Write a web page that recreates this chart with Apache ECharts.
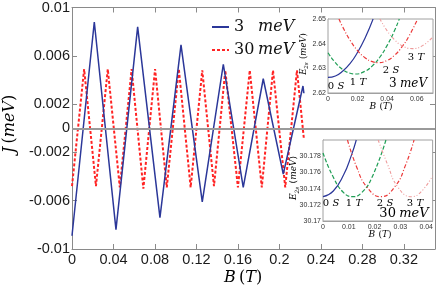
<!DOCTYPE html>
<html><head><meta charset="utf-8">
<script src="https://cdn.jsdelivr.net/npm/echarts@6/dist/echarts.min.js"></script>
<style>html,body{margin:0;padding:0;background:#fff}#c{width:436px;height:289px}</style>
</head><body><div id="c"></div>
<script>
// ---- main plot data: exchange J (meV) vs B (T)
const B_3meV = [0, 0.0215, 0.0424, 0.0633, 0.0848, 0.1051, 0.1256, 0.1459, 0.1651, 0.1844, 0.2037, 0.2227, 0.2236];
const J_3meV = [-0.0089, 0.0088, -0.0084, 0.0084, -0.0074, 0.0069, -0.0061, 0.0053, -0.0049, 0.0041, -0.0038, 0.0035, 0.0029];
const B_30meV = [0, 0.0117, 0.0231, 0.0345, 0.0461, 0.0575, 0.0688, 0.0801, 0.0914, 0.1030, 0.1144, 0.1256, 0.1369, 0.1478, 0.1600, 0.1714, 0.1830, 0.1938, 0.2056, 0.2169, 0.2236];
const J_30meV = [-0.0048, 0.0049, -0.0048, 0.0049, -0.0049, 0.0049, -0.0050, 0.0049, -0.0049, 0.0049, -0.0049, 0.0048, -0.0048, 0.0048, -0.0049, 0.0048, -0.0049, 0.0048, -0.0049, 0.0048, -0.0009];
const mainXTicks = [0, 0.04, 0.08, 0.12, 0.16, 0.2, 0.24, 0.28, 0.32];
const mainYTicks = [-0.01, -0.006, -0.002, 0, 0.002, 0.006, 0.01];

// ---- inset 1 (3 meV): E_2s (meV) vs B (T)
const in1_0S_B = [0, 0.005, 0.01, 0.015, 0.02, 0.025, 0.0305];
const in1_0S_E = [2.6263, 2.6269, 2.6289, 2.6320, 2.6365, 2.6422, 2.6500];
const in1_1T_B = [0, 0.005, 0.01, 0.015, 0.0185, 0.025, 0.03, 0.035, 0.04, 0.045, 0.0482];
const in1_1T_E = [2.6363, 2.6323, 2.6295, 2.6280, 2.6277, 2.6288, 2.6310, 2.6345, 2.6393, 2.6453, 2.6500];
const in1_2S_B = [0.0074, 0.01, 0.015, 0.02, 0.025, 0.03, 0.034, 0.04, 0.045, 0.05, 0.055, 0.0606];
const in1_2S_E = [2.6500, 2.6467, 2.6413, 2.6372, 2.6343, 2.6327, 2.6323, 2.6332, 2.6353, 2.6387, 2.6433, 2.6500];
const in1_3T_B = [0.0351, 0.04, 0.045, 0.05, 0.057, 0.064, 0.071];
const in1_3T_E = [2.6500, 2.6452, 2.6416, 2.6392, 2.6380, 2.6392, 2.6429];
const in1_XTicks = [0, 0.02, 0.04, 0.06];
const in1_YTicks = [2.62, 2.63, 2.64, 2.65];

// ---- inset 2 (30 meV)
const in2_0S_B = [0, 0.004, 0.008, 0.011, 0.0129];
const in2_0S_E = [30.1730, 30.1737, 30.1757, 30.1781, 30.1800];
const in2_1T_B = [0, 0.004, 0.008, 0.0115, 0.015, 0.019, 0.0244];
const in2_1T_E = [30.1784, 30.1754, 30.1735, 30.1730, 30.1735, 30.1754, 30.1800];
const in2_2S_B = [0.0095, 0.013, 0.017, 0.0224, 0.028, 0.032, 0.0353];
const in2_2S_E = [30.1800, 30.1767, 30.1742, 30.1730, 30.1743, 30.1769, 30.1800];
const in2_3T_B = [0.0214, 0.025, 0.029, 0.0343, 0.038, 0.0425];
const in2_3T_E = [30.1800, 30.1770, 30.1742, 30.1730, 30.1736, 30.1756];
const in2_XTicks = [0, 0.01, 0.02, 0.03, 0.04];
const in2_YTicks = [30.17, 30.172, 30.174, 30.176, 30.178];

const pairs = (xs, ys) => xs.map((x, i) => [x, ys[i]]);
const fmt = d => v => String(+(+v).toFixed(d));

const SANS = 'Liberation Sans';
const SERIF = 'DejaVu Serif';
const BLUE = '#2b3799', RED = '#ff2424', GREEN = '#1f9e55', RED2 = '#ec3a3a', PINK = '#ee9a9a';
const AX = '#8a8a8a';

function mainX(pos, show) {
  return { gridIndex: 0, type: 'value', position: pos, min: 0, max: 0.35,
    axisLine: { show: true, onZero: false, lineStyle: { color: AX, width: 1 } },
    axisTick: { show: true, inside: true, length: 5, customValues: mainXTicks, lineStyle: { color: AX } },
    axisLabel: { show: show, customValues: mainXTicks, formatter: fmt(3), fontFamily: SANS, fontSize: 14.5, color: '#1a1a1a', margin: 3 },
    splitLine: { show: false } };
}
function mainY(pos, show) {
  return { gridIndex: 0, type: 'value', position: pos, min: -0.01, max: 0.01,
    axisLine: { show: true, onZero: false, lineStyle: { color: AX, width: 1 } },
    axisTick: { show: true, inside: true, length: 5, customValues: mainYTicks, lineStyle: { color: AX } },
    axisLabel: { show: show, customValues: mainYTicks, formatter: fmt(4), fontFamily: SANS, fontSize: 14.5, color: '#1a1a1a', margin: 2 },
    splitLine: { show: false } };
}
function insetAxis(kind, gi, min, max, ticks, dec) {
  return { gridIndex: gi, type: 'value', min: min, max: max,
    axisLine: { show: true, onZero: false, lineStyle: { color: '#a0a0a0', width: 1 } },
    axisTick: { show: true, inside: true, length: 2, customValues: ticks, lineStyle: { color: '#a0a0a0' } },
    axisLabel: { customValues: ticks, formatter: fmt(dec), fontFamily: SANS, fontSize: 7, color: '#333', margin: kind === 'x' ? 3 : 2 },
    splitLine: { show: false } };
}
function insetLine(name, xi, data, color, type, width) {
  return { name: name, type: 'line', xAxisIndex: xi, yAxisIndex: xi, data: data, smooth: 0.5,
    symbol: 'none', lineStyle: { color: color, width: width, type: type }, silent: true, z: 3 };
}

const chart = echarts.init(document.getElementById('c'), null, { renderer: 'canvas' });
const serifRich = (size, color) => ({
  n: { fontFamily: SERIF, fontSize: size, color: color },
  i: { fontFamily: SERIF, fontStyle: 'italic', fontSize: size, color: color },
  s: { fontFamily: SERIF, fontStyle: 'italic', fontSize: size * 0.65, color: color, verticalAlign: 'bottom', padding: [size * 0.35, 0, 0, 0] }
});
function label(x, y, text, size, color, rot) {
  return { type: 'text', x: x, y: y, rotation: rot || 0, z: 100, silent: true,
    style: { text: text, rich: serifRich(size, color), align: 'center', verticalAlign: 'middle' } };
}
const legendRich = serifRich(16, '#111');
legendRich.n.width = 24;

chart.setOption({
  animation: false,
  backgroundColor: '#fff',
  grid: [
    { left: 72, top: 5, width: 363, height: 244 },
    { left: 328, top: 19, width: 105, height: 74, show: true, borderColor: '#a0a0a0', borderWidth: 1, backgroundColor: '#fff', z: 2 },
    { left: 323, top: 140, width: 110, height: 81, show: true, borderColor: '#a0a0a0', borderWidth: 1, backgroundColor: '#fff', z: 2 }
  ],
  xAxis: [
    mainX('bottom', true), mainX('top', false),
    insetAxis('x', 1, 0, 0.071, in1_XTicks, 2),
    insetAxis('x', 2, 0, 0.0425, in2_XTicks, 2)
  ],
  yAxis: [
    mainY('left', true), mainY('right', false),
    insetAxis('y', 1, 2.62, 2.65, in1_YTicks, 2),
    insetAxis('y', 2, 30.17, 30.18, in2_YTicks, 3)
  ],
  legend: {
    data: ['3 meV', '30 meV'], orient: 'vertical', left: 206, top: 14,
    itemWidth: 17, itemHeight: 12, itemGap: 7, selectedMode: false,
    itemStyle: { opacity: 0, borderWidth: 0 },
    formatter: name => '{n|' + name.split(' ')[0] + '}{i|meV}',
    textStyle: { rich: legendRich }
  },
  series: [
    { name: '3 meV', type: 'line', xAxisIndex: 0, yAxisIndex: 0, data: pairs(B_3meV, J_3meV),
      symbol: 'none', lineStyle: { color: BLUE, width: 1.5 }, itemStyle: { color: BLUE }, z: 4,
      markLine: { silent: true, symbol: ['none', 'none'], label: { show: false },
        lineStyle: { color: '#9a9a9a', width: 1.8, type: 'solid' }, data: [{ yAxis: 0 }] } },
    { name: '30 meV', type: 'line', xAxisIndex: 0, yAxisIndex: 0, data: pairs(B_30meV, J_30meV),
      symbol: 'none', lineStyle: { color: RED, width: 2, type: [3, 2] }, itemStyle: { color: RED }, z: 3 },
    insetLine('in1 0S', 2, pairs(in1_0S_B, in1_0S_E), BLUE, 'solid', 1.2),
    insetLine('in1 1T', 2, pairs(in1_1T_B, in1_1T_E), GREEN, [4, 2], 1.2),
    insetLine('in1 2S', 2, pairs(in1_2S_B, in1_2S_E), RED2, [4, 2, 1, 2], 1.2),
    insetLine('in1 3T', 2, pairs(in1_3T_B, in1_3T_E), PINK, [3, 2, 1, 2, 1, 2], 1.1),
    insetLine('in2 0S', 3, pairs(in2_0S_B, in2_0S_E), BLUE, 'solid', 1.2),
    insetLine('in2 1T', 3, pairs(in2_1T_B, in2_1T_E), GREEN, [4, 2], 1.2),
    insetLine('in2 2S', 3, pairs(in2_2S_B, in2_2S_E), RED2, [4, 2, 1, 2], 1.2),
    insetLine('in2 3T', 3, pairs(in2_3T_B, in2_3T_E), PINK, [3, 2, 1, 2, 1, 2], 1.1)
  ],
  graphic: [
    label(10, 124, '{i|J} {n|(}{i|meV}{n|)}', 16, '#111', Math.PI / 2),
    label(243, 278, '{i|B} {n|(}{i|T}{n|)}', 16, '#111'),
    label(304, 54, '{i|E}{s|2s} {n|(}{i|meV}{n|)}', 8.5, '#444', Math.PI / 2),
    label(381, 107, '{i|B} {n|(}{i|T}{n|)}', 9, '#444'),
    label(294, 178, '{i|E}{s|2s} {n|(}{i|meV}{n|)}', 9, '#444', Math.PI / 2),
    label(380, 235, '{i|B} {n|(}{i|T}{n|)}', 9, '#444'),
    label(336, 86, '{n|0} {i|S}', 10, '#3f45b0'),
    label(358, 82, '{n|1} {i|T}', 10, GREEN),
    label(391, 70, '{n|2} {i|S}', 10, RED2),
    label(416, 57, '{n|3} {i|T}', 10, '#e06060'),
    label(408, 84, '{n|3} {i|meV}', 12, '#111'),
    label(331, 203, '{n|0} {i|S}', 10, '#3f45b0'),
    label(354, 203, '{n|1} {i|T}', 10, GREEN),
    label(385, 203, '{n|2} {i|S}', 10, RED2),
    label(415, 203, '{n|3} {i|T}', 10, '#e06060'),
    label(404, 214, '{n|30} {i|meV}', 13, '#111')
  ]
});
</script></body></html>
